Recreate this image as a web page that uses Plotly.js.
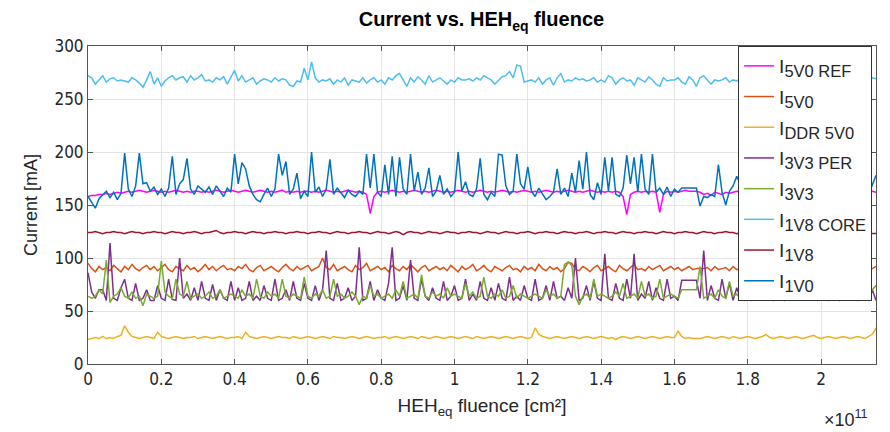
<!DOCTYPE html>
<html>
<head>
<meta charset="utf-8">
<script src="https://cdn.plot.ly/plotly-3.0.1.min.js"></script>
<style>html,body{margin:0;padding:0;background:#fff;}#chart{width:890px;height:432px;}</style>
</head>
<body>
<div id="chart"></div>
<script>
// fluence step (units of 1e11 cm^-2), one sample per step
const fluenceStep = 0.01;

const i5V0REF = [
158,159,159,160,160,161,160,161,162,161,162,163,162,163,164,163,162,163,164,163,
162,163,162,163,164,163,162,163,162,163,163,162,163,162,163,164,163,162,163,164,
163,162,163,164,163,162,163,164,163,162,163,162,163,164,162,163,162,163,162,163,
163,162,163,162,163,164,163,162,163,162,163,164,163,162,163,162,160,142,158,162,
163,162,163,164,163,162,163,162,163,164,163,162,163,162,163,164,163,162,163,162,
163,164,163,162,163,162,163,164,163,162,163,162,163,164,163,162,163,162,163,164,
163,162,163,162,163,164,163,162,163,162,163,164,163,162,163,162,163,164,163,162,
163,162,163,162,163,162,158,141,160,162,163,162,163,162,163,162,143,160,163,162,
163,162,163,164,163,163,163,162,160,161,159,162,161,160,162,161,162,163,162,163,
162,163,162,163,164,163,162,163,162,163,164,163,162,163,162,163,164,163,162,163,
162,163,164,163,162,163,162,163,164,163,162,163,162,163,163,162];

const i5V0 = [
95,90,87,92,89,91,88,93,90,87,92,89,94,90,88,91,93,89,92,88,
91,94,89,87,92,90,88,93,89,91,87,90,94,89,92,88,91,93,89,90,
88,92,90,94,89,87,91,93,88,90,92,89,87,91,94,90,88,92,89,91,
93,88,90,92,100,91,89,94,88,90,92,89,87,93,89,91,95,88,90,92,
89,91,87,93,90,88,92,89,94,90,87,91,93,88,90,92,89,91,88,93,
90,87,92,89,91,94,88,90,93,89,87,92,90,88,91,93,89,90,87,92,
89,91,88,94,90,88,92,89,91,87,90,96,95,89,88,92,90,87,91,93,
88,90,92,89,87,93,90,88,91,94,89,90,88,92,89,91,93,88,90,92,
89,91,88,90,92,89,90,90,90,91,88,92,89,90,91,88,92,89,90,91,
88,92,89,91,90,88,93,89,90,92,88,91,89,90,93,88,91,89,92,90,
88,91,93,89,90,92,88,91,89,90,92,88,91,89,90,92];

const iDDR5V0 = [
23,24,25,24,26,24,25,24,26,27,36,30,26,25,24,25,26,25,24,30,
26,25,24,25,26,25,24,25,25,26,24,25,26,25,24,25,26,25,24,25,
25,26,24,30,26,25,24,25,26,25,24,25,26,25,25,24,26,25,24,25,
26,25,24,25,26,25,24,26,25,25,24,25,26,25,24,25,26,25,24,25,
25,26,24,25,26,25,24,25,26,25,24,26,25,24,25,26,25,24,25,26,
25,24,25,26,25,24,26,25,24,25,26,25,24,25,26,25,24,25,26,25,
24,25,34,28,26,25,24,25,26,25,24,25,26,25,24,25,26,25,24,25,
26,25,24,25,23,25,26,25,24,25,26,25,24,25,26,25,24,25,26,25,
25,31,26,24,25,24,24,24,25,26,25,24,25,26,25,24,26,25,24,25,
26,25,24,25,26,28,25,24,25,26,25,24,25,26,25,24,25,26,27,25,
24,25,26,25,24,25,26,25,24,25,26,25,24,26,28,34];

const i3V3PER = [
86,68,62,70,70,60,114,62,60,72,80,62,60,76,60,62,70,60,60,74,
62,60,80,61,60,100,62,66,60,72,60,78,62,60,75,60,70,62,60,78,
60,72,60,62,78,60,64,60,74,62,60,80,60,62,70,60,78,62,60,76,
62,60,74,60,70,107,62,60,76,60,62,72,60,64,110,60,62,78,60,70,
62,60,76,110,60,62,74,60,98,62,60,80,64,60,72,62,60,78,60,64,
74,60,62,80,60,66,60,78,62,60,72,60,76,62,60,82,60,64,60,74,
62,60,80,60,62,74,60,78,62,64,60,72,62,100,60,62,74,60,78,62,
60,104,62,60,76,62,60,80,62,104,60,66,62,78,60,72,62,60,80,62,
64,60,79,79,79,79,79,62,107,60,74,62,60,80,62,76,60,72,62,60,
78,60,62,74,60,80,62,60,76,62,60,72,60,78,62,64,60,76,62,60,
74,62,60,80,62,60,72,60,78,62,60,74,62,60,70,60];

const i3V3 = [
64,62,64,70,66,98,58,64,66,72,64,62,68,62,64,55,66,64,62,64,
97,68,64,62,80,66,64,78,62,64,66,62,64,68,62,64,70,62,64,66,
64,62,70,64,66,62,80,64,62,68,64,66,62,80,64,62,66,64,62,82,
64,62,66,64,70,62,64,80,64,66,62,64,68,64,56,64,62,74,64,66,
62,64,66,62,70,64,78,62,64,66,62,84,64,62,68,64,66,62,72,64,
66,64,62,76,64,68,62,64,82,64,62,66,64,70,62,64,74,62,66,64,
62,64,66,64,62,70,64,66,62,64,94,96,93,64,56,64,66,62,80,64,
66,64,62,64,68,64,76,62,64,66,62,78,64,66,62,64,80,62,64,66,
64,62,70,70,70,70,70,92,62,64,66,62,70,64,62,78,64,66,62,64,
68,64,62,76,64,66,62,64,80,62,64,66,62,70,64,62,78,64,66,62,
64,66,62,72,64,62,68,64,66,62,78,64,62,66,70,74];

const i1V8CORE = [
272,270,264,268,272,266,269,270,267,268,267,266,270,268,265,261,268,276,264,270,
262,267,270,272,268,270,271,266,272,268,270,273,267,268,266,270,268,271,264,270,
277,267,272,266,268,270,264,267,269,268,266,270,267,269,268,263,262,267,266,279,
268,285,270,266,268,267,269,264,268,266,270,263,268,267,266,270,265,268,270,266,
268,264,270,268,272,274,268,262,270,266,271,268,264,272,266,268,270,267,264,268,
266,270,268,268,269,267,270,268,272,270,268,264,268,271,272,276,270,282,281,266,
267,268,266,270,264,268,270,263,270,274,266,268,267,270,268,269,267,268,270,266,
268,266,272,270,264,268,270,267,268,263,270,268,266,271,268,264,262,270,267,268,
268,270,266,264,271,268,262,270,272,268,264,268,267,268,270,266,268,267,270,268,
266,270,268,269,267,270,268,266,271,268,270,267,268,266,270,268,269,267,268,270,
268,266,270,268,267,269,268,270,266,268,270,267,268,266,270,269];

const i1V8 = [
124,124,125,124,123,124,124,125,124,124,123,124,125,124,124,123,124,124,125,124,
124,123,124,125,124,124,123,124,124,125,124,123,124,124,125,126,124,123,124,124,
125,124,124,123,124,125,124,124,123,124,124,125,124,124,123,124,124,125,124,124,
123,124,124,125,124,124,123,124,125,124,124,123,124,124,125,124,124,123,124,125,
124,124,123,124,125,124,122,124,125,124,124,123,124,125,124,124,123,124,125,124,
124,123,124,124,125,124,124,123,124,125,124,124,123,124,125,124,124,123,124,124,
125,124,123,124,124,125,124,124,123,124,125,124,124,123,124,124,125,124,123,124,
124,125,124,124,123,124,125,124,124,123,124,124,125,124,124,123,124,125,124,124,
123,124,124,125,124,124,123,124,125,124,124,123,124,124,125,124,124,123,124,124,
125,124,124,123,124,124,125,124,124,123,124,124,125,124,124,123,124,125,124,124,
123,124,125,124,124,123,124,124,125,124,124,123,124,124,123,123];

const i1V0 = [
158,152,147,156,160,163,157,162,155,161,199,165,158,168,199,170,171,163,167,160,
165,158,166,196,160,170,174,194,165,160,168,165,162,167,160,168,163,158,166,162,
198,170,190,184,168,160,155,153,160,166,158,165,198,178,191,160,165,180,156,163,
158,200,162,167,158,165,193,160,166,162,157,164,160,158,163,160,198,166,198,162,
158,188,160,196,158,195,165,160,198,163,181,160,166,185,158,163,178,160,165,158,
162,200,163,172,160,158,165,194,160,155,162,158,198,197,168,160,163,198,170,165,
186,163,158,166,160,155,158,162,184,160,166,158,180,162,192,165,200,160,155,171,
160,195,163,195,160,158,166,197,170,195,162,198,165,160,198,162,166,160,167,158,
165,162,166,166,166,166,166,149,158,157,160,158,188,162,150,163,168,177,170,160,
165,196,162,160,166,190,158,163,197,160,165,158,176,162,195,160,166,158,184,163,
160,198,165,158,162,188,160,166,157,194,162,158,165,160,170,178];

const seriesSubs = ['5V0 REF','5V0','DDR 5V0','3V3 PER','3V3','1V8 CORE','1V8','1V0'];
const seriesData = [i5V0REF, i5V0, iDDR5V0, i3V3PER, i3V3, i1V8CORE, i1V8, i1V0];
const seriesColors = ['#FF00FF','#D95319','#EDB120','#7E2F8E','#77AC30','#4DBEEE','#A2142F','#0072BD'];

const xTickVals = [0,0.2,0.4,0.6,0.8,1,1.2,1.4,1.6,1.8,2];
const xTickText = ['0','0.2','0.4','0.6','0.8','1','1.2','1.4','1.6','1.8','2'];
const yTickVals = [0,50,100,150,200,250,300];

const tickFont = {family:'Liberation Sans Narrow, Arial Narrow, DejaVu Sans Condensed, sans-serif', size:17, color:'#262626'};

const traces = seriesData.map((ys, k) => ({
  x: ys.map((_, i) => +(i * fluenceStep).toFixed(4)),
  y: ys,
  type: 'scatter',
  mode: 'lines',
  name: 'I<sub><span style="font-size:16.5px">' + seriesSubs[k] + '</span></sub>',
  legendgroup: 'g' + k,
  line: {color: seriesColors[k], width: 1.5}
}));

const layout = {
  width: 890, height: 432,
  margin: {l: 88, r: 14, t: 46, b: 68},
  paper_bgcolor: '#fff', plot_bgcolor: '#fff',
  title: {
    text: '<b>Current vs. HEH<sub>eq</sub> fluence</b>',
    font: {family: 'Liberation Sans, Arial, sans-serif', size: 20, color: '#000'},
    x: 0.541, xanchor: 'center', xref: 'container',
    y: 0.955, yanchor: 'middle', yref: 'container'
  },
  xaxis: {
    range: [0, 2.15],
    tickvals: xTickVals, ticktext: xTickText,
    ticks: 'inside', ticklen: 5, tickcolor: '#555',
    showline: true, linecolor: '#555', linewidth: 1, mirror: 'ticks',
    showgrid: true, gridcolor: '#e4e4e4', zeroline: false,
    tickfont: tickFont,
    title: {text: 'HEH<sub>eq</sub> fluence [cm²]', font: {family: 'Liberation Sans Narrow, Arial Narrow, sans-serif', size: 19, color: '#262626'}, standoff: 10}
  },
  yaxis: {
    range: [0, 300],
    tickvals: yTickVals,
    ticks: 'inside', ticklen: 5, tickcolor: '#555',
    showline: true, linecolor: '#555', linewidth: 1, mirror: 'ticks',
    showgrid: true, gridcolor: '#e4e4e4', zeroline: false,
    tickfont: tickFont,
    title: {text: 'Current [mA]', font: {family: 'Liberation Sans, Arial, sans-serif', size: 18, color: '#262626'}, standoff: 12}
  },
  legend: {
    x: 0.825, xanchor: 'left', y: 1, yanchor: 'top',
    bgcolor: '#fff', bordercolor: '#333', borderwidth: 1,
    font: {family: 'Liberation Sans, Arial, sans-serif', size: 19, color: '#262626'},
    traceorder: 'grouped', tracegroupgap: 3
  },
  showlegend: true,
  annotations: [{
    text: '×10<sup>11</sup>', xref: 'paper', yref: 'paper', x: 0.993, y: -0.13,
    xanchor: 'right', yanchor: 'top', showarrow: false,
    font: {family: 'Liberation Sans Narrow, Arial Narrow, sans-serif', size: 18, color: '#262626'}
  }]
};

Plotly.newPlot('chart', traces, layout, {displayModeBar: false, staticPlot: true});
</script>
</body>
</html>
